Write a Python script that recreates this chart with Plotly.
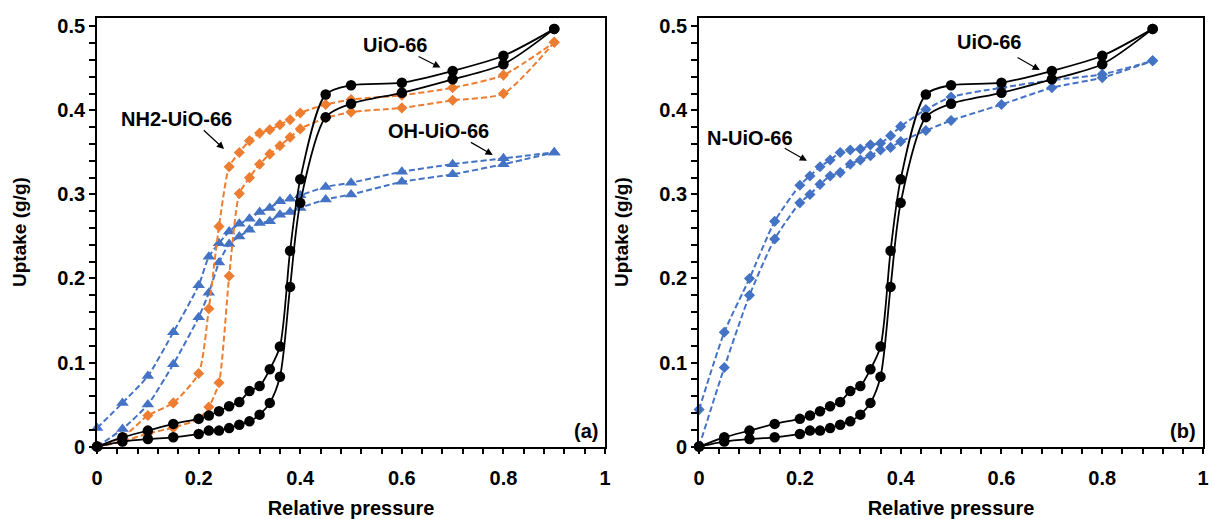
import plotly.graph_objects as go

# ---------------- data ----------------
P_UIO = [0, 0.05, 0.1, 0.15, 0.2, 0.22, 0.24, 0.26, 0.28, 0.3, 0.32, 0.34, 0.36, 0.38, 0.4,
         0.45, 0.5, 0.6, 0.7, 0.8, 0.9]
UIO_ADS = [0, 0.006, 0.009, 0.011, 0.015, 0.019, 0.019, 0.022, 0.026, 0.030, 0.038, 0.052, 0.083,
           0.190, 0.290, 0.392, 0.408, 0.421, 0.437, 0.455, 0.497]
UIO_DES = [0, 0.011, 0.019, 0.027, 0.033, 0.037, 0.042, 0.048, 0.053, 0.066, 0.072, 0.092, 0.119,
           0.233, 0.318, 0.419, 0.430, 0.433, 0.447, 0.465, 0.497]

P_NH2 = [0, 0.05, 0.1, 0.15, 0.2, 0.22, 0.24, 0.26, 0.28, 0.3, 0.32, 0.34, 0.36, 0.38, 0.4,
         0.45, 0.5, 0.6, 0.7, 0.8, 0.9]
NH2_ADS = [0, 0.006, 0.0155, 0.0225, 0.033, 0.047, 0.076, 0.203, 0.301, 0.320, 0.336, 0.348,
           0.358, 0.368, 0.378, 0.391, 0.398, 0.403, 0.412, 0.420, 0.481]
NH2_DES = [0, 0.011, 0.037, 0.052, 0.087, 0.164, 0.262, 0.333, 0.350, 0.364, 0.373, 0.377,
           0.383, 0.389, 0.397, 0.407, 0.413, 0.418, 0.427, 0.442, 0.481]

P_OH = [0, 0.05, 0.1, 0.15, 0.2, 0.22, 0.24, 0.26, 0.28, 0.3, 0.32, 0.34, 0.36, 0.38, 0.4,
        0.45, 0.5, 0.6, 0.7, 0.8, 0.9]
OH_ADS = [0, 0.021, 0.050, 0.098, 0.154, 0.183, 0.219, 0.241, 0.250, 0.258, 0.266, 0.268,
          0.276, 0.279, 0.284, 0.294, 0.300, 0.315, 0.324, 0.336, 0.350]
OH_DES = [0.022, 0.052, 0.084, 0.136, 0.192, 0.226, 0.242, 0.256, 0.265, 0.271, 0.279, 0.284,
          0.292, 0.295, 0.299, 0.309, 0.314, 0.327, 0.336, 0.343, 0.350]

P_N = [0, 0.05, 0.1, 0.15, 0.2, 0.22, 0.24, 0.26, 0.28, 0.3, 0.32, 0.34, 0.36, 0.38, 0.4,
       0.45, 0.5, 0.6, 0.7, 0.8, 0.9]
N_ADS = [0, 0.094, 0.180, 0.247, 0.290, 0.300, 0.312, 0.322, 0.326, 0.336, 0.341, 0.346,
         0.353, 0.356, 0.363, 0.376, 0.388, 0.407, 0.427, 0.439, 0.459]
N_DES = [0.044, 0.136, 0.200, 0.268, 0.311, 0.322, 0.333, 0.341, 0.350, 0.353, 0.354, 0.359,
         0.361, 0.370, 0.381, 0.401, 0.416, 0.427, 0.436, 0.443, 0.459]

X_TICKS = [0, 0.2, 0.4, 0.6, 0.8, 1]
Y_TICKS = [0, 0.1, 0.2, 0.3, 0.4, 0.5]

# ---------------- style ----------------
W, H = 1214, 519
FONT = "Liberation Sans"
BLACK = "#000000"
ORANGE = "#ED7D31"
BLUE = "#4472C4"
DASH = "6px,3px"

fig = go.Figure()


def uio(xa, ya):
    for y in (UIO_ADS, UIO_DES):
        fig.add_trace(go.Scatter(
            x=P_UIO, y=y, xaxis=xa, yaxis=ya, mode="lines+markers", cliponaxis=False,
            line=dict(color=BLACK, width=1.8, shape="spline", smoothing=0.8),
            marker=dict(symbol="circle", size=10.5, color=BLACK), showlegend=False))


def dashed(px, ys, color, symbol, size, xa, ya):
    for y in ys:
        fig.add_trace(go.Scatter(
            x=px, y=y, xaxis=xa, yaxis=ya, mode="lines+markers", cliponaxis=False,
            line=dict(color=color, width=2, dash=DASH, shape="spline", smoothing=0.6),
            marker=dict(symbol=symbol, size=size, color=color), showlegend=False))


# panel (a)
dashed(P_OH, (OH_ADS, OH_DES), BLUE, "triangle-up", 11, "x", "y")
dashed(P_NH2, (NH2_ADS, NH2_DES), ORANGE, "diamond", 8.5, "x", "y")
uio("x", "y")
# panel (b)
dashed(P_N, (N_ADS, N_DES), BLUE, "diamond", 8.5, "x2", "y2")
uio("x2", "y2")

YTOP = 0.5 + (25 - 16) / 862.0
ydom = [(H - 456) / H, (H - 16) / H]

tickfont = dict(family=FONT, size=20, color=BLACK, weight="bold")


def xaxis(dom):
    return dict(domain=dom, range=[0, 1], tickvals=X_TICKS, ticks="outside", ticklen=5,
                tickwidth=1.5, tickcolor=BLACK, tickfont=tickfont, ticklabelstandoff=7,
                minor=dict(dtick=0.04, tick0=0, ticks="outside", ticklen=5, tickwidth=1.5,
                           tickcolor=BLACK),
                showline=True, linewidth=2, linecolor=BLACK, mirror=True,
                showgrid=False, zeroline=False,
                title=dict(text="Relative pressure", standoff=13,
                           font=dict(family=FONT, size=20, color=BLACK, weight="bold")))


def yaxis(anchor):
    return dict(domain=ydom, range=[0, YTOP], anchor=anchor, tickvals=Y_TICKS, ticks="outside",
                ticklen=6, tickwidth=1.5, tickcolor=BLACK, tickfont=tickfont,
                minor=dict(dtick=0.02, tick0=0, ticks="outside", ticklen=6, tickwidth=1.5,
                           tickcolor=BLACK),
                showline=True, linewidth=2, linecolor=BLACK, mirror=True,
                showgrid=False, zeroline=False,
                title=dict(text="Uptake (g/g)", standoff=26,
                           font=dict(family=FONT, size=19, color=BLACK, weight="bold")))


fig.update_layout(
    width=W, height=H, margin=dict(l=0, r=0, t=0, b=0),
    paper_bgcolor="white", plot_bgcolor="white",
    xaxis=xaxis([92 / W, 605 / W]), yaxis=yaxis("x"),
    xaxis2=xaxis([700 / W, 1209 / W]), yaxis2=yaxis("x2"),
    showlegend=False,
)
fig.layout.xaxis.anchor = "y"
fig.layout.xaxis2.anchor = "y2"

afont = dict(family=FONT, size=20, color=BLACK, weight="bold")
labels = [
    ("x", "y", "UiO-66", 0.587, 0.478, (0.630, 0.465), (0.676, 0.451)),
    ("x", "y", "NH2-UiO-66", 0.156, 0.390, (0.207, 0.378), (0.250, 0.354)),
    ("x", "y", "OH-UiO-66", 0.672, 0.375, (0.733, 0.363), (0.779, 0.347)),
    ("x2", "y2", "UiO-66", 0.576, 0.481, (0.629, 0.464), (0.676, 0.448)),
    ("x2", "y2", "N-UiO-66", 0.1015, 0.367, (0.167, 0.356), (0.214, 0.340)),
]
for xr, yr, txt, tx, ty, tail, head in labels:
    fig.add_annotation(xref=xr, yref=yr, x=tx, y=ty, text=txt, showarrow=False, font=afont)
    fig.add_annotation(xref=xr, yref=yr, axref=xr, ayref=yr, x=head[0], y=head[1],
                       ax=tail[0], ay=tail[1], text="", showarrow=True, arrowhead=2,
                       arrowsize=1.2, arrowwidth=1.2, arrowcolor=BLACK, standoff=0)

for xr, yr, txt in (("x", "y", "(a)"), ("x2", "y2", "(b)")):
    fig.add_annotation(xref=xr, yref=yr, x=0.99, y=0.018, text=txt, showarrow=False,
                       xanchor="right", yanchor="middle", font=afont)

fig.write_html("out.html")
